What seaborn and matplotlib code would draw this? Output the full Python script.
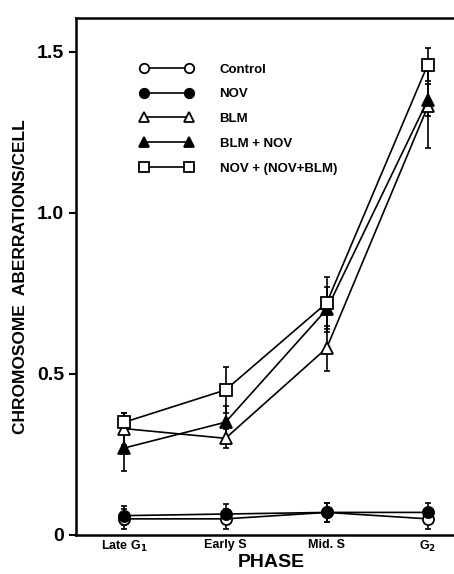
import pandas as pd
import numpy as np
import matplotlib
matplotlib.use("Agg")
import matplotlib.pyplot as plt
import seaborn as sns

# --- data ---
phases = ["Late G$_1$", "Early S", "Mid. S", "G$_2$"]
control = [0.05, 0.05, 0.07, 0.05]
control_err = [0.03, 0.03, 0.03, 0.03]
nov = [0.06, 0.065, 0.07, 0.07]
nov_err = [0.03, 0.03, 0.03, 0.03]
blm = [0.33, 0.30, 0.58, 1.33]
blm_err = [0.05, 0.03, 0.07, 0.13]
blm_nov = [0.27, 0.35, 0.70, 1.35]
blm_nov_err = [0.07, 0.05, 0.07, 0.05]
nov_nov_blm = [0.35, 0.45, 0.72, 1.46]
nov_nov_blm_err = [0.03, 0.07, 0.08, 0.05]

series = [
    ("Control", control, control_err, "o", "white"),
    ("NOV", nov, nov_err, "o", "black"),
    ("BLM", blm, blm_err, "^", "white"),
    ("BLM + NOV", blm_nov, blm_nov_err, "^", "black"),
    ("NOV + (NOV+BLM)", nov_nov_blm, nov_nov_blm_err, "s", "white"),
]

sns.set_style("ticks")
plt.rcParams["font.family"] = ["Liberation Sans", "DejaVu Sans"]
plt.rcParams["font.weight"] = "bold"
for k in ["text.color", "axes.labelcolor", "xtick.color", "ytick.color", "axes.edgecolor"]:
    plt.rcParams[k] = "black"

fig = plt.figure(figsize=(4.54, 5.74), dpi=100)
ax = fig.add_axes([0.167, 0.068, 0.86, 0.901])

x = np.arange(len(phases))
handles = []
for name, vals, err, mk, face in series:
    df = pd.DataFrame({"phase": x, "value": vals})
    ax.errorbar(x, vals, yerr=err, fmt="none", ecolor="black", elinewidth=1.2,
                capsize=2.5, capthick=1.2, zorder=2)
    sns.lineplot(data=df, x="phase", y="value", ax=ax, color="black", lw=1.2,
                 marker=mk, markersize=9 if mk == "s" else 8,
                 markerfacecolor=face, markeredgecolor="black",
                 markeredgewidth=1.3, zorder=3)
    handles.append(ax.lines[-1])

leg = ax.legend(handles, [s[0] for s in series], loc="upper left",
                bbox_to_anchor=(0.135, 0.935), frameon=False, numpoints=2,
                handlelength=4.0, handletextpad=2.0, labelspacing=0.95,
                markerscale=0.85, prop={"weight": "bold", "size": 9.5})

ax.set_xlim(-0.48, 3.38)
ax.set_ylim(0, 1.605)
ax.set_xticks(x)
ax.set_xticklabels(phases, fontsize=9, fontweight="bold")
ax.tick_params(axis="x", length=0, pad=3)
ax.set_yticks([0, 0.5, 1.0, 1.5])
ax.set_yticklabels(["0", "0.5", "1.0", "1.5"], fontsize=14, fontweight="bold")
ax.tick_params(axis="y", length=5, width=1.5, direction="out")
ax.set_xlabel("PHASE", fontsize=14, fontweight="bold", labelpad=0)
ax.set_ylabel("CHROMOSOME  ABERRATIONS/CELL", fontsize=12.5, fontweight="bold", labelpad=6)
for s in ["left", "bottom", "top"]:
    ax.spines[s].set_linewidth(1.8)
ax.spines["right"].set_visible(False)

fig.savefig("out.png", dpi=100)
